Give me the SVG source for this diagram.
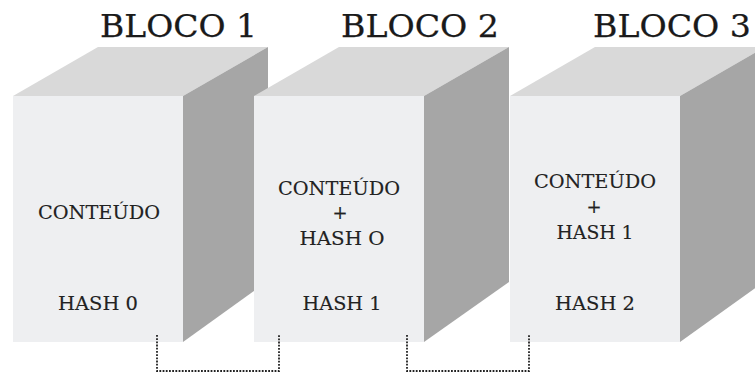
<svg xmlns="http://www.w3.org/2000/svg" width="755" height="374" viewBox="0 0 755 374">
  <style>
    .front { fill: #eeeff1; }
    .top { fill: #d9d9d9; }
    .side { fill: #a6a6a6; }
    .title { font-family: "DejaVu Serif", serif; font-size: 31px; fill: #1a1a1a; stroke: #1a1a1a; stroke-width: 0.25px; }
    .label { font-family: "DejaVu Serif", serif; font-size: 18px; fill: #222; text-anchor: middle; stroke: #222; stroke-width: 0.15px; }
    .link { fill: none; stroke: #222; stroke-width: 1.8; stroke-dasharray: 1.8 1.4; }
  </style>
  <rect width="755" height="374" fill="#ffffff"/>

  <!-- titles -->
  <text class="title" x="100" y="37" textLength="157" lengthAdjust="spacingAndGlyphs">BLOCO 1</text>
  <text class="title" x="341" y="37" textLength="158" lengthAdjust="spacingAndGlyphs">BLOCO 2</text>
  <text class="title" x="593" y="37" textLength="158" lengthAdjust="spacingAndGlyphs">BLOCO 3</text>

  <!-- block 1 -->
  <g id="bloco1">
    <polygon class="top" points="13,96 183,96 268,47 98,47"/>
    <polygon class="side" points="183,96 268,47 268,281 183,342"/>
    <rect class="front" x="13" y="96" width="170" height="246"/>
    <text class="label" x="99" y="219" textLength="122" lengthAdjust="spacingAndGlyphs">CONTEÚDO</text>
    <text class="label" x="98" y="310" textLength="80" lengthAdjust="spacingAndGlyphs">HASH 0</text>
  </g>

  <!-- block 2 -->
  <g id="bloco2">
    <polygon class="top" points="254,96 424,96 509,47 339,47"/>
    <polygon class="side" points="424,96 509,47 509,282 424,342"/>
    <rect class="front" x="254" y="96" width="170" height="246"/>
    <text class="label" x="339" y="195" textLength="122" lengthAdjust="spacingAndGlyphs">CONTEÚDO</text>
    <text class="label" x="340" y="219">+</text>
    <text class="label" x="342" y="245" textLength="85" lengthAdjust="spacingAndGlyphs">HASH O</text>
    <text class="label" x="342" y="310" textLength="79" lengthAdjust="spacingAndGlyphs">HASH 1</text>
  </g>

  <!-- block 3 -->
  <g id="bloco3">
    <polygon class="top" points="510,96 680,96 765,47 595,47"/>
    <polygon class="side" points="680,96 765,47 765,281 680,342"/>
    <rect class="front" x="510" y="96" width="170" height="246"/>
    <text class="label" x="595" y="188" textLength="122" lengthAdjust="spacingAndGlyphs">CONTEÚDO</text>
    <text class="label" x="594" y="213">+</text>
    <text class="label" x="595" y="239" textLength="77" lengthAdjust="spacingAndGlyphs">HASH 1</text>
    <text class="label" x="595" y="310" textLength="80" lengthAdjust="spacingAndGlyphs">HASH 2</text>
  </g>

  <!-- dotted links between blocks -->
  <g id="connectors">
    <polyline class="link" points="157,335 157,371 279,371 279,335"/>
    <polyline class="link" points="407,335 407,371 529,371 529,335"/>
  </g>
</svg>
